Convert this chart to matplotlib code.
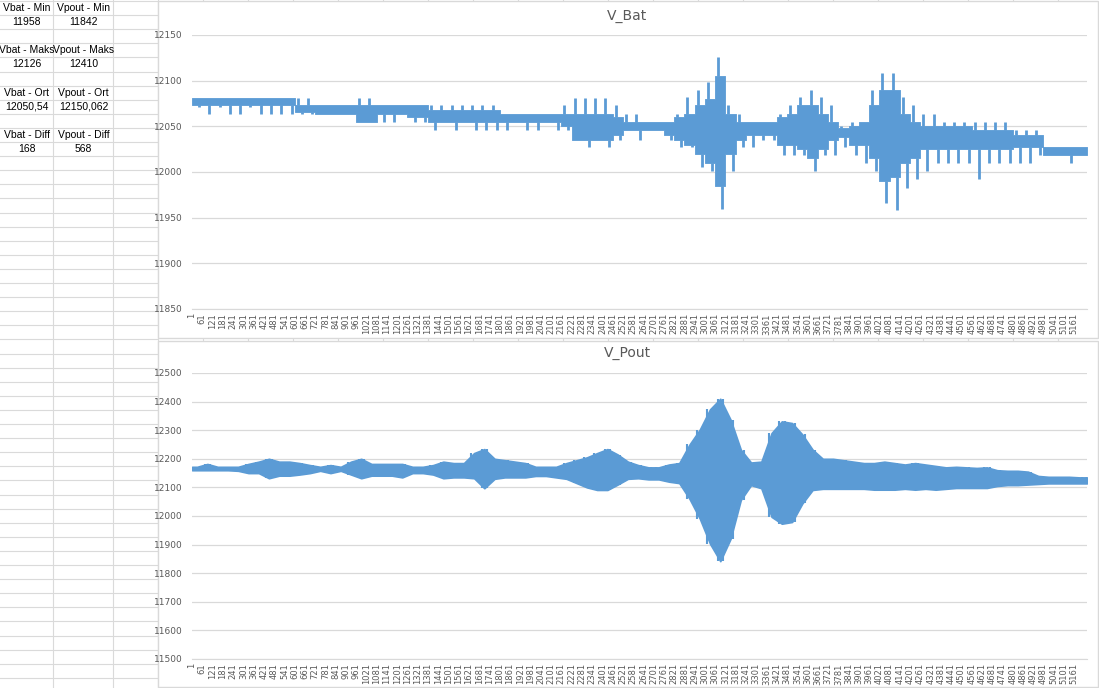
import numpy as np
import matplotlib.pyplot as plt
from matplotlib.patches import Rectangle

# samples in each series, values read per 60-sample block
n_points = 5235
block = 60
x_ticks = list(range(1, 5162, 60))

# V_Bat: extreme spikes per block
vbat_hi = [12081, 12081, 12081, 12081, 12081, 12081, 12081, 12081, 12081, 12081,
           12081, 12081, 12073, 12073, 12073, 12073, 12081, 12081, 12073, 12073,
           12073, 12073, 12073, 12073, 12073, 12073, 12073, 12073, 12073, 12073,
           12064, 12064, 12064, 12064, 12064, 12064, 12073, 12081, 12081, 12081,
           12081, 12073, 12064, 12064, 12055, 12055, 12055, 12064, 12082, 12090,
           12099, 12126, 12073, 12064, 12055, 12055, 12055, 12064, 12073, 12082,
           12090, 12082, 12073, 12050, 12055, 12055, 12090, 12108, 12108, 12082,
           12073, 12064, 12064, 12055, 12055, 12055, 12055, 12055, 12055, 12055,
           12046, 12046, 12046, 12027, 12027, 12027, 12027, 12027]
vbat_lo = [12071, 12064, 12071, 12064, 12064, 12071, 12064, 12064, 12064, 12064,
           12064, 12064, 12064, 12064, 12064, 12064, 12055, 12055, 12055, 12055,
           12064, 12055, 12055, 12046, 12055, 12046, 12055, 12046, 12046, 12046,
           12046, 12055, 12046, 12046, 12055, 12046, 12046, 12035, 12027, 12035,
           12027, 12035, 12046, 12035, 12046, 12046, 12035, 12027, 12027, 12005,
           12001, 11960, 12001, 12027, 12027, 12035, 12035, 12019, 12019, 12019,
           12001, 12019, 12019, 12027, 12019, 12010, 12001, 11966, 11958, 11983,
           11992, 12001, 12010, 12010, 12010, 12010, 11992, 12010, 12010, 12010,
           12010, 12010, 12019, 12019, 12019, 12010, 12019, 12019]
# V_Bat: dense core band per block
vbat_core_hi = [12081, 12081, 12081, 12081, 12081, 12081, 12081, 12081, 12081, 12081,
                12073, 12073, 12073, 12073, 12073, 12073, 12073, 12073, 12073, 12073,
                12073, 12073, 12073, 12068, 12068, 12068, 12068, 12068, 12068, 12068,
                12064, 12064, 12064, 12064, 12064, 12064, 12064, 12064, 12064, 12064,
                12064, 12060, 12055, 12055, 12055, 12055, 12055, 12060, 12064, 12073,
                12080, 12105, 12064, 12055, 12055, 12055, 12055, 12060, 12064, 12073,
                12073, 12064, 12055, 12048, 12050, 12055, 12073, 12090, 12090, 12064,
                12055, 12050, 12050, 12050, 12050, 12050, 12046, 12046, 12046, 12046,
                12040, 12040, 12040, 12027, 12027, 12027, 12027, 12027]
vbat_core_lo = [12073, 12073, 12073, 12073, 12073, 12073, 12073, 12073, 12073, 12073,
                12066, 12066, 12064, 12064, 12064, 12064, 12055, 12055, 12064, 12064,
                12064, 12060, 12060, 12055, 12055, 12055, 12055, 12055, 12055, 12055,
                12055, 12055, 12055, 12055, 12055, 12055, 12050, 12035, 12035, 12035,
                12035, 12040, 12046, 12046, 12046, 12046, 12040, 12035, 12030, 12020,
                12010, 11985, 12020, 12035, 12040, 12040, 12040, 12030, 12030, 12025,
                12015, 12025, 12035, 12038, 12030, 12030, 12015, 11990, 11995, 12010,
                12015, 12025, 12025, 12025, 12025, 12025, 12025, 12025, 12025, 12025,
                12027, 12027, 12027, 12019, 12019, 12019, 12019, 12019]

# V_Pout: envelope per block
vpout_hi = [12172, 12182, 12172, 12172, 12172, 12182, 12190, 12200, 12190, 12190,
            12185, 12178, 12172, 12178, 12172, 12190, 12200, 12182, 12182, 12182,
            12182, 12172, 12172, 12178, 12190, 12185, 12185, 12220, 12234, 12200,
            12195, 12190, 12185, 12172, 12172, 12172, 12185, 12195, 12205, 12220,
            12234, 12215, 12190, 12178, 12170, 12170, 12180, 12185, 12250, 12302,
            12373, 12410, 12337, 12232, 12187, 12190, 12290, 12331, 12325, 12285,
            12232, 12200, 12200, 12195, 12190, 12185, 12185, 12190, 12185, 12180,
            12185, 12180, 12175, 12170, 12172, 12170, 12168, 12170, 12160, 12158,
            12158, 12155, 12140, 12137, 12137, 12137, 12135, 12135]
vpout_lo = [12160, 12160, 12160, 12160, 12158, 12150, 12150, 12132, 12141, 12141,
            12145, 12150, 12158, 12150, 12158, 12145, 12132, 12141, 12141, 12141,
            12135, 12150, 12150, 12145, 12132, 12135, 12135, 12132, 12097, 12130,
            12135, 12135, 12135, 12140, 12140, 12135, 12130, 12115, 12100, 12091,
            12091, 12110, 12130, 12132, 12128, 12128, 12120, 12115, 12060, 11991,
            11903, 11842, 11920, 12056, 12108, 12097, 11997, 11973, 11979, 12044,
            12091, 12095, 12095, 12095, 12095, 12095, 12092, 12092, 12092, 12095,
            12092, 12095, 12092, 12095, 12098, 12098, 12098, 12098, 12105, 12108,
            12108, 12110, 12112, 12114, 12114, 12114, 12114, 12114]

table_heads = [('Vbat - Min', 'Vpout - Min'), ('Vbat - Maks', 'Vpout - Maks'),
               ('Vbat - Ort', 'Vpout - Ort'), ('Vbat - Diff', 'Vpout - Diff')]
table_vals = [('11958', '11842'), ('12126', '12410'),
              ('12050,54', '12150,062'), ('168', '568')]

blue = '#5b9bd5'
grey_txt = '#595959'
grid_c = '#d9d9d9'
cell_c = '#dadada'

W, H = 1099, 688
fig = plt.figure(figsize=(W / 100, H / 100), dpi=100)

# sheet background
bg = fig.add_axes([0, 0, 1, 1])
bg.set_xlim(0, W)
bg.set_ylim(H, 0)
bg.axis('off')
row_h = 14.1
for y in np.arange(1, H, row_h):
    bg.plot([0, 157], [y, y], color=cell_c, lw=0.8)
for x in [53, 113] + list(range(158, W, 45)):
    bg.plot([x, x], [0, H], color=cell_c, lw=0.8)

for i, (heads, vals) in enumerate(zip(table_heads, table_vals)):
    r = 3 * i
    for c, cx in enumerate([26.5, 83.5]):
        bg.text(cx, row_h * r + 8, heads[c], ha='center', va='center',
                fontsize=7.5, family='Liberation Sans', color='black')
        bg.text(cx, row_h * (r + 1) + 8, vals[c], ha='center', va='center',
                fontsize=7.5, family='Liberation Sans', color='black')

# chart panels
bg.add_patch(Rectangle((157.5, 0.5), 940, 337, fc='white', ec=grid_c, lw=1, zorder=3))
bg.add_patch(Rectangle((157.5, 340.5), 940, 346, fc='white', ec=grid_c, lw=1, zorder=3))
bg.text(627, 16, 'V_Bat', ha='center', va='center', fontsize=10, color=grey_txt, zorder=4)
bg.text(627, 353, 'V_Pout', ha='center', va='center', fontsize=10, color=grey_txt, zorder=4)


def setup(rect, ymin, ymax, step):
    ax = fig.add_axes(rect)
    ax.patch.set_alpha(0)
    ax.set_xlim(0.5, n_points + 0.5)
    ax.set_ylim(ymin, ymax)
    ax.set_yticks(np.arange(ymin, ymax + 1, step))
    ax.set_xticks(x_ticks)
    ax.set_xticklabels([str(t) for t in x_ticks], rotation=90, fontsize=6, color=grey_txt)
    ax.tick_params(axis='y', length=0, labelsize=6.5, labelcolor=grey_txt, pad=7)
    ax.tick_params(axis='x', length=0, pad=3)
    ax.grid(axis='y', color=grid_c, lw=0.9)
    ax.set_axisbelow(True)
    for s in ['top', 'left', 'right']:
        ax.spines[s].set_visible(False)
    ax.spines['bottom'].set_color(grid_c)
    return ax


starts = np.arange(len(vbat_hi)) * block + 0.5
edges = np.append(starts, n_points + 0.5)

# V_Bat: stepped core band + spikes
ax1 = setup([192 / W, 1 - 309 / H, 895 / W, 274 / H], 11850, 12150, 50)
ax1.fill_between(edges, np.append(vbat_core_lo, vbat_core_lo[-1]),
                 np.append(vbat_core_hi, vbat_core_hi[-1]),
                 step='post', color=blue, lw=0.6, ec=blue)
ax1.vlines(starts + 18, vbat_core_hi, vbat_hi, color=blue, lw=2)
ax1.vlines(starts + 42, vbat_lo, vbat_core_lo, color=blue, lw=2)

# V_Pout: envelope between block centres, with the block extremes as spikes
ax2 = setup([192 / W, 1 - 659 / H, 895 / W, 286 / H], 11500, 12500, 100)
centres = np.clip(starts + block / 2, 1, n_points)
xs = np.concatenate([[1], centres, [n_points]])
ax2.fill_between(xs, np.concatenate([[vpout_lo[0]], vpout_lo, [vpout_lo[-1]]]),
                 np.concatenate([[vpout_hi[0]], vpout_hi, [vpout_hi[-1]]]),
                 color=blue, lw=1.2, ec=blue)
ax2.vlines(np.clip(starts + 14, 1, n_points), vpout_lo, vpout_hi, color=blue, lw=1.5)
ax2.vlines(np.clip(starts + 46, 1, n_points), vpout_lo, vpout_hi, color=blue, lw=1.5)

fig.savefig('out.png', dpi=100)
